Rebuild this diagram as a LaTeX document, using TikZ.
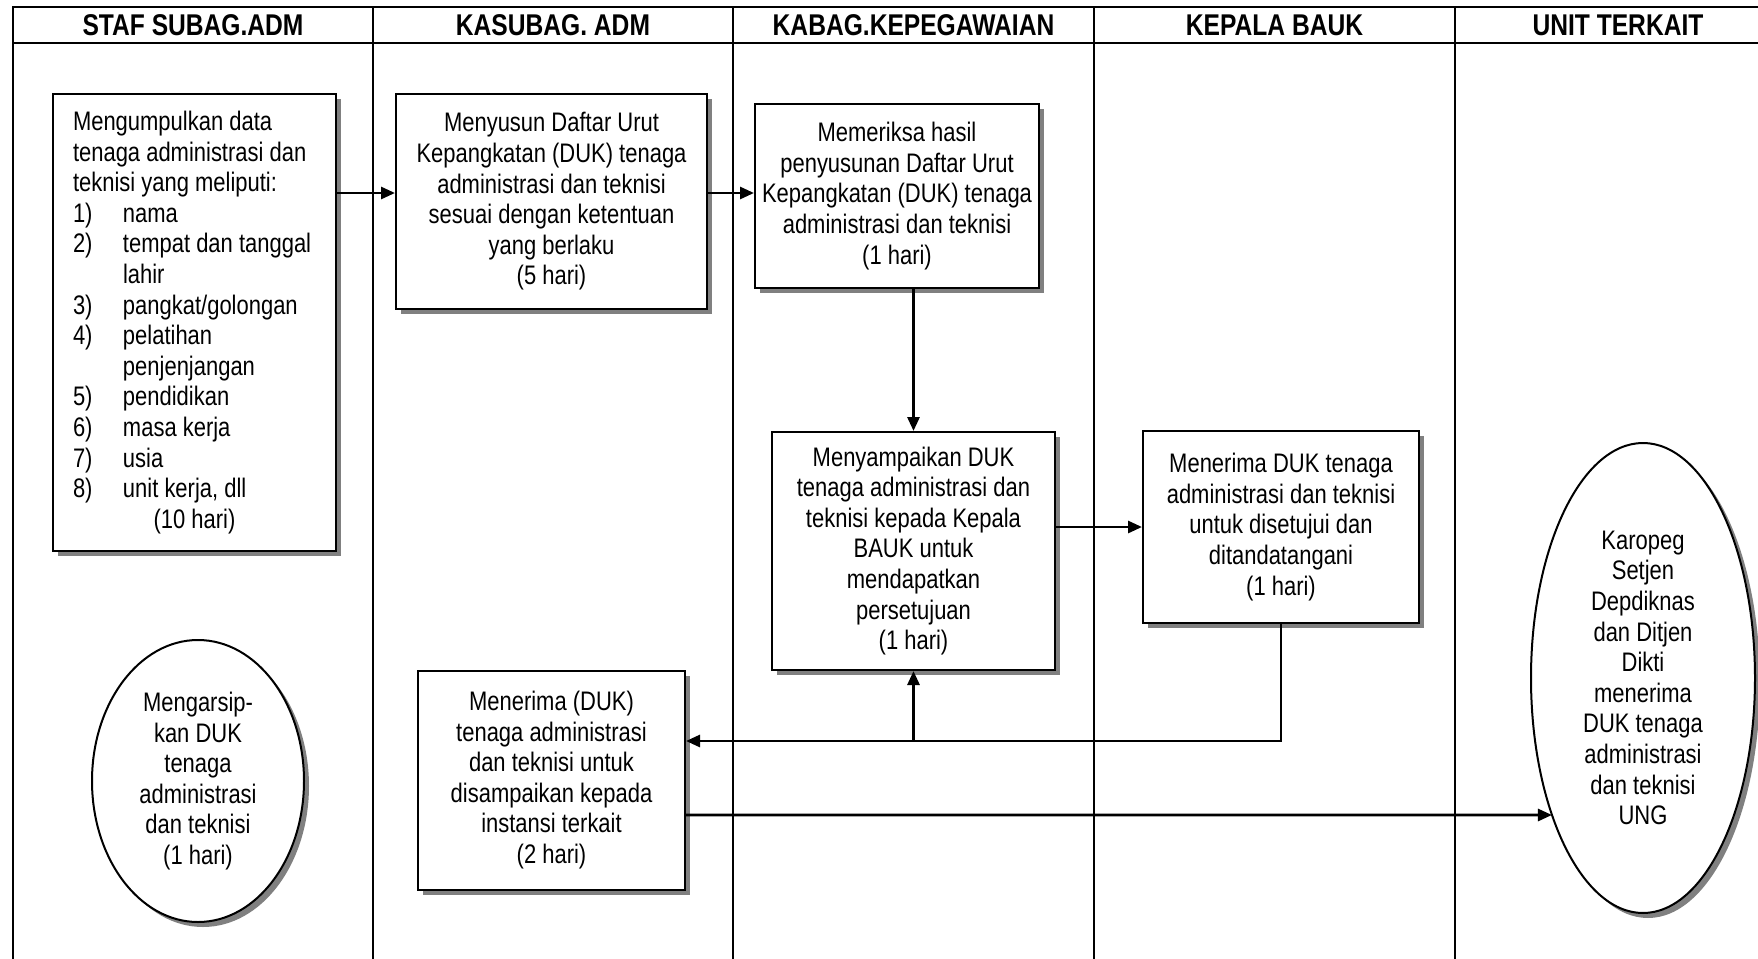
\documentclass[tikz,border=0pt]{standalone}
\usepackage{fontspec}
\setmainfont{Liberation Sans}[FakeStretch=0.82]
\usetikzlibrary{shapes.geometric,shadows,arrows.meta,intersections}
\newcommand\bodyfont{\fontsize{13.4pt}{15.3pt}\selectfont}
\newcommand\headfont{\fontsize{15pt}{18pt}\selectfont\bfseries}
\newcommand\itm[2]{\makebox[25pt][l]{#1}#2}
\begin{document}
\begin{tikzpicture}[x=0.5pt,y=-0.5pt,
  gridline/.style={line width=1.4pt},
  castshadow/.style={drop shadow={shadow xshift=2.5pt,shadow yshift=-2.5pt,fill=black!50,opacity=1}},
  stepbox/.style={draw,line width=1pt,fill=white,inner sep=0pt,align=center,font=\bodyfont,castshadow},
  oval/.style={ellipse,draw,line width=1pt,fill=white,inner sep=0pt,align=center,font=\bodyfont,castshadow},
  head/.style={font=\headfont,inner sep=0pt},
  arr/.style={line width=1.4pt,-{Triangle[length=7pt,width=6pt]}}]

\clip (0,0) rectangle (1758,959);
\fill[white] (0,0) rectangle (1758,959);

% swimlane grid
\draw[gridline] (13,990) -- (13,7) -- (1790,7);
\draw[gridline] (13,43) -- (1790,43);
\foreach \x in {373,733,1094,1455} \draw[gridline] (\x,7) -- (\x,990);

% lane titles
\node[head] (h1) at (193,25) {STAF SUBAG.ADM};
\node[head] (h2) at (553,25) {KASUBAG. ADM};
\node[head] (h3) at (913.5,25) {KABAG.KEPEGAWAIAN};
\node[head] (h4) at (1274.5,25) {KEPALA BAUK};
\node[head] (h5) at (1618,25) {UNIT TERKAIT};

% process steps
\node[stepbox, minimum width=141.5pt, minimum height=228.5pt, align=left] (A) at (194.5,322.5)
  {Mengumpulkan data\\
   tenaga administrasi dan\\
   teknisi yang meliputi:\\
   \itm{1)}{nama}\\
   \itm{2)}{tempat dan tanggal}\\
   \hspace*{25pt}lahir\\
   \itm{3)}{pangkat/golongan}\\
   \itm{4)}{pelatihan}\\
   \hspace*{25pt}penjenjangan\\
   \itm{5)}{pendidikan}\\
   \itm{6)}{masa kerja}\\
   \itm{7)}{usia}\\
   \itm{8)}{unit kerja, dll}\\
   \makebox[121.5pt]{(10 hari)}};

\node[stepbox, minimum width=155.5pt, minimum height=107.5pt] (B) at (551.5,201.5)
  {Menyusun Daftar Urut\\Kepangkatan (DUK) tenaga\\administrasi dan teknisi\\sesuai dengan ketentuan\\yang berlaku\\(5 hari)};

\node[stepbox, minimum width=142pt, minimum height=92pt] (C) at (897,196)
  {Memeriksa hasil\\penyusunan Daftar Urut\\Kepangkatan (DUK) tenaga\\administrasi dan teknisi\\(1 hari)};

\node[stepbox, minimum width=141.5pt, minimum height=119pt] (D) at (913.5,551)
  {Menyampaikan DUK\\tenaga administrasi dan\\teknisi kepada Kepala\\BAUK untuk\\mendapatkan\\persetujuan\\(1 hari)};

\node[stepbox, minimum width=138pt, minimum height=96pt] (E) at (1281,527)
  {Menerima DUK tenaga\\administrasi dan teknisi\\untuk disetujui dan\\ditandatangani\\(1 hari)};

\node[stepbox, minimum width=133.5pt, minimum height=109.5pt] (F) at (551.5,780)
  {Menerima (DUK)\\tenaga administrasi\\dan teknisi untuk\\disampaikan kepada\\instansi terkait\\(2 hari)};

\node[oval, minimum width=106pt, minimum height=141pt] (G) at (198,781)
  {Mengarsip-\\kan DUK\\tenaga\\administrasi\\dan teknisi\\(1 hari)};

\node[oval, minimum width=112pt, minimum height=235pt, name path=Hrim] (H) at (1643,678)
  {Karopeg\\Setjen\\Depdiknas\\dan Ditjen\\Dikti\\menerima\\DUK tenaga\\administrasi\\dan teknisi\\UNG};

% connector levels
\coordinate (lvl1) at (0,193);
\coordinate (lvl3) at (0,741);
\coordinate (lvl4) at (0,815);

% flow
\draw[arr] (A.east |- lvl1) -- (B.west |- lvl1);
\draw[arr] (B.east |- lvl1) -- (C.west |- lvl1);
\draw[arr] (D.north |- C.south) -- (D.north);
\draw[arr] (D.east |- E.west) -- (E.west);
\draw[arr] (E.south) -- (E.south |- lvl3) -- (F.east |- lvl3);
\draw[arr] (D.south |- lvl3) -- (D.south);
\path[name path=toH] (F.east |- lvl4) -- (lvl4 -| H.center);
\draw[arr, name intersections={of=toH and Hrim}] (F.east |- lvl4) -- (intersection-1);
\end{tikzpicture}
\end{document}
